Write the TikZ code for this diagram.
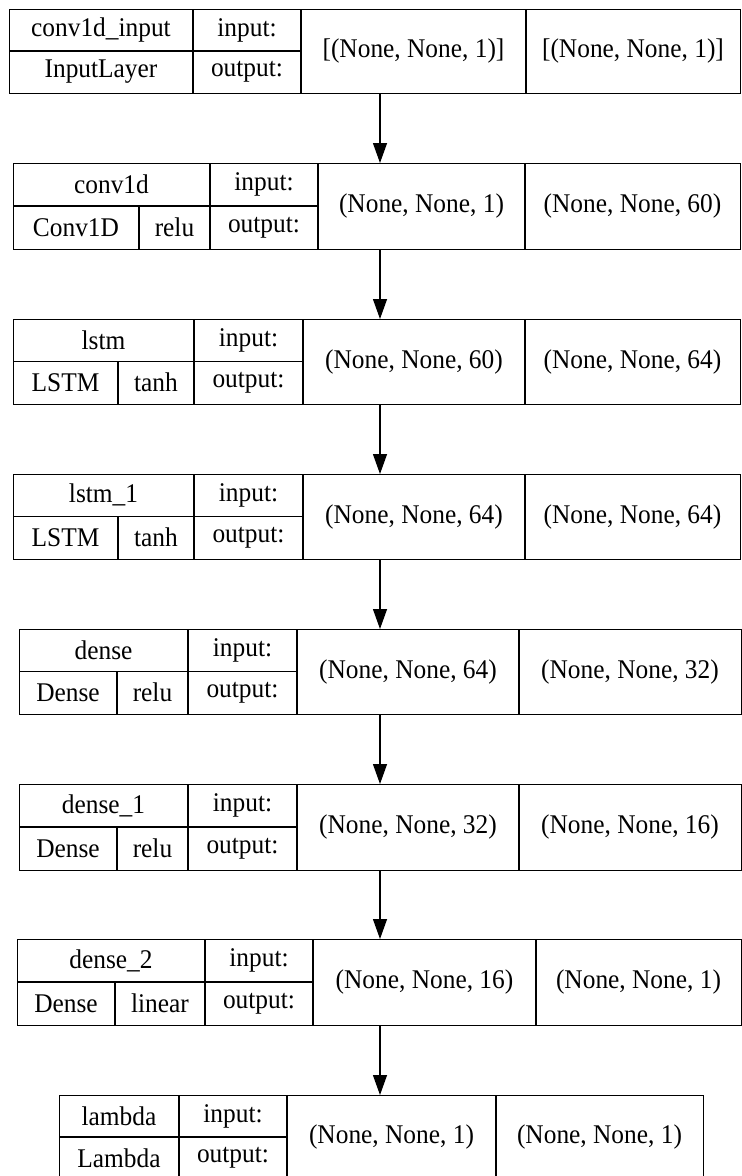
\documentclass[tikz,border=0pt]{standalone}
\usepackage{fontspec}
\setmainfont{Liberation Serif}
\usetikzlibrary{arrows.meta}
\tikzset{
  box/.style={draw=black, line width=1.3pt, inner sep=0pt},
  sep/.style={draw=black, line width=1.3pt},
  txt/.style={inner sep=0pt, text=black, xscale=0.94, font=\fontsize{27}{30}\selectfont},
  arr/.style={draw=black, line width=1.3pt, -{Triangle[length=20pt,width=14pt]}}
}
% #1 id, #2 x0, #3 split x, #4 x1, #5 x2, #6 x3, #7 right, #8 top, #9 bottom
\newcommand\layerrow[9]{%
  \node[box, minimum width={(#7-#2)*1pt}, minimum height={(#9-#8)*1pt}, anchor=north west] (#1) at (#2,#8) {};
  \draw[sep] (#4,#8) -- (#4,#9);
  \draw[sep] (#5,#8) -- (#5,#9);
  \draw[sep] (#6,#8) -- (#6,#9);
  \draw[sep] (#2,{(#8+#9)/2}) -- (#5,{(#8+#9)/2});
  \node[txt] (#1-name) at ({(#2+#4)/2},{(3*#8+#9)/4}) {\Lname};
  \node[txt] (#1-inl) at ({(#4+#5)/2},{(3*#8+#9)/4}) {input:};
  \node[txt] (#1-outl) at ({(#4+#5)/2},{(#8+3*#9)/4}) {output:};
  \ifx\LlowB\empty
    \node[txt] (#1-cls) at ({(#2+#4)/2},{(#8+3*#9)/4}) {\LlowA};
  \else
    \draw[sep] (#3,{(#8+#9)/2}) -- (#3,#9);
    \node[txt] (#1-cls) at ({(#2+#3)/2},{(#8+3*#9)/4}) {\LlowA};
    \node[txt] (#1-act) at ({(#3+#4)/2},{(#8+3*#9)/4}) {\LlowB};
  \fi
  \node[txt] (#1-ins) at ({(#5+#6)/2},{(#8+#9)/2}) {\Lin};
  \node[txt] (#1-outs) at ({(#6+#7)/2},{(#8+#9)/2}) {\Lout};
}
\begin{document}
\begin{tikzpicture}[x=1pt,y=-1pt]
\useasboundingbox (0,0) rectangle (742,1176);
\fill[white] (0,0) rectangle (742,1176);
\coordinate (ax) at (380,0);

\def\Lname{conv1d\_input}\def\LlowA{InputLayer}\def\LlowB{}\def\Lin{[(None, None, 1)]}\def\Lout{[(None, None, 1)]}
\layerrow{L1}{9}{9}{193}{301}{526}{740}{9}{93}

\def\Lname{conv1d}\def\LlowA{Conv1D}\def\LlowB{relu}\def\Lin{(None, None, 1)}\def\Lout{(None, None, 60)}
\layerrow{L2}{13}{139}{210}{318}{525}{740}{163}{249}

\def\Lname{lstm}\def\LlowA{LSTM}\def\LlowB{tanh}\def\Lin{(None, None, 60)}\def\Lout{(None, None, 64)}
\layerrow{L3}{13}{118}{194}{303}{525}{740}{319}{404}

\def\Lname{lstm\_1}\def\LlowA{LSTM}\def\LlowB{tanh}\def\Lin{(None, None, 64)}\def\Lout{(None, None, 64)}
\layerrow{L4}{13}{118}{194}{303}{525}{740}{474}{559}

\def\Lname{dense}\def\LlowA{Dense}\def\LlowB{relu}\def\Lin{(None, None, 64)}\def\Lout{(None, None, 32)}
\layerrow{L5}{19}{117}{188}{297}{519}{741}{629}{714}

\def\Lname{dense\_1}\def\LlowA{Dense}\def\LlowB{relu}\def\Lin{(None, None, 32)}\def\Lout{(None, None, 16)}
\layerrow{L6}{19}{117}{188}{297}{519}{741}{784}{870}

\def\Lname{dense\_2}\def\LlowA{Dense}\def\LlowB{linear}\def\Lin{(None, None, 16)}\def\Lout{(None, None, 1)}
\layerrow{L7}{17}{115}{205}{313}{536}{741}{939}{1025}

\def\Lname{lambda}\def\LlowA{Lambda}\def\LlowB{}\def\Lin{(None, None, 1)}\def\Lout{(None, None, 1)}
\layerrow{L8}{59}{59}{179}{287}{496}{703}{1095}{1179}

\draw[arr] (L1.south -| ax) -- (L2.north -| ax);
\draw[arr] (L2.south -| ax) -- (L3.north -| ax);
\draw[arr] (L3.south -| ax) -- (L4.north -| ax);
\draw[arr] (L4.south -| ax) -- (L5.north -| ax);
\draw[arr] (L5.south -| ax) -- (L6.north -| ax);
\draw[arr] (L6.south -| ax) -- (L7.north -| ax);
\draw[arr] (L7.south -| ax) -- (L8.north -| ax);
\end{tikzpicture}
\end{document}
